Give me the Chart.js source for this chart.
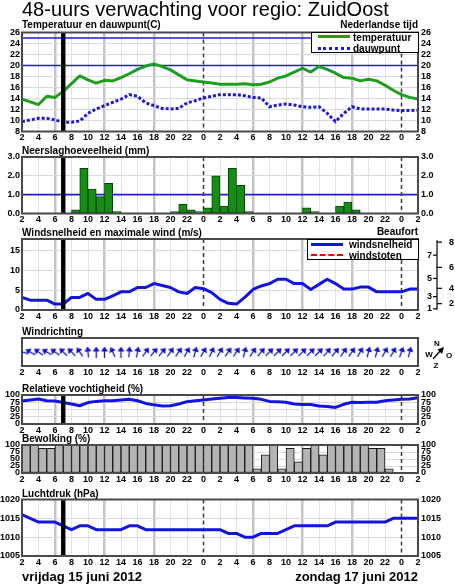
<!DOCTYPE html>
<html><head><meta charset="utf-8">
<script src="https://cdn.jsdelivr.net/npm/chart.js@4.4.1/dist/chart.umd.min.js"></script>
<style>
html,body{margin:0;padding:0;background:#fff;}
#wrap{position:relative;width:455px;height:584px;overflow:hidden;font-family:"Liberation Sans",Arial,Helvetica,sans-serif;color:#000;}
#wrap canvas{position:absolute;left:0;top:0;}
.title{position:absolute;left:22px;top:-2px;font-size:20px;line-height:22px;white-space:nowrap;}
.sub{position:absolute;white-space:nowrap;font-weight:bold;font-size:10px;line-height:12px;}
.date{position:absolute;font-weight:bold;font-size:13px;line-height:15px;white-space:nowrap;top:569px;}
.legend{position:absolute;background:#fff;border:1px solid #000;box-sizing:border-box;}
.legend .ln{position:absolute;height:0;width:32px;left:6px;}
.legend .tx{position:absolute;font-weight:bold;font-size:10px;line-height:10px;white-space:nowrap;left:41px;}
</style></head><body>
<div id="wrap">
<canvas id="cTemp" width="455" height="584"></canvas>
<canvas id="cRain" width="455" height="584"></canvas>
<canvas id="cWind" width="455" height="584"></canvas>
<canvas id="cDir" width="455" height="584"></canvas>
<canvas id="cHum" width="455" height="584"></canvas>
<canvas id="cCloud" width="455" height="584"></canvas>
<canvas id="cPres" width="455" height="584"></canvas>

<div class="title">48-uurs verwachting voor regio: ZuidOost</div>
<div class="sub" style="left:22px;top:19px">Temperatuur en dauwpunt(C)</div>
<div class="sub" style="right:37px;top:19px">Nederlandse tijd</div>
<div class="sub" style="left:22px;top:145px">Neerslaghoeveelheid (mm)</div>
<div class="sub" style="left:22px;top:227px">Windsnelheid en maximale wind (m/s)</div>
<div class="sub" style="right:37px;top:226px">Beaufort</div>
<div class="sub" style="left:22px;top:326px">Windrichting</div>
<div class="sub" style="left:22px;top:383px">Relatieve vochtigheid (%)</div>
<div class="sub" style="left:22px;top:433px">Bewolking (%)</div>
<div class="sub" style="left:22px;top:488px">Luchtdruk (hPa)</div>
<div class="date" style="left:22px">vrijdag 15 juni 2012</div>
<div class="date" style="right:37px">zondag 17 juni 2012</div>

<div class="legend" style="left:311px;top:32px;width:108px;height:21px">
  <div class="ln" style="top:2px;border-top:3px solid #1e9e1e"></div>
  <div class="tx" style="top:0px">temperatuur</div>
  <div class="ln" style="top:14px;border-top:3px dotted #1a1ad0"></div>
  <div class="tx" style="top:11px">dauwpunt</div>
</div>
<div class="legend" style="left:307px;top:239px;width:112px;height:21px">
  <div class="ln" style="top:3px;left:3px;border-top:3px solid #1414e0"></div>
  <div class="tx" style="top:0px">windsnelheid</div>
  <div class="ln" style="top:14px;left:3px;border-top:2px dashed #ff0000"></div>
  <div class="tx" style="top:11px">windstoten</div>
</div>
<svg style="position:absolute;left:424px;top:339px" width="31" height="30" viewBox="0 0 31 30">
  <g font-family="Liberation Sans, Arial, sans-serif" font-weight="bold" font-size="8" fill="#000" text-anchor="middle">
    <text x="13" y="7">N</text>
    <text x="5" y="18">W</text>
    <text x="25" y="19">O</text>
    <text x="12" y="29">Z</text>
  </g>
  <line x1="9" y1="20" x2="17" y2="11" stroke="#000" stroke-width="1.3"/>
  <polygon points="20,8 13.5,10.5 18,15" fill="#000"/>
</svg>
</div>

<script>
// ---------------- data ----------------
const startHour = 2;          // first hour shown (vrijdag 15 juni 2012, 02:00)
const nowHour = 7;            // current time marker
const xTickLabels = ['2','4','6','8','10','12','14','16','18','20','22','0','2','4','6','8','10','12','14','16','18','20','22','0','2'];

const temperatuur = [13.9,13.4,12.9,14.4,14.2,15.3,16.7,18.1,17.4,16.8,17.3,17.2,17.8,18.5,19.3,19.9,20.3,19.8,19.2,18.3,17.4,17.2,
                     17.0,16.8,16.6,16.6,16.6,16.7,16.5,16.6,17.0,17.7,18.1,18.8,19.5,18.8,19.8,19.3,18.6,17.8,17.7,17.2,17.5,17.2,16.4,15.5,
                     14.7,14.2,13.9];
const dauwpunt    = [9.8,10.1,10.4,10.4,10.1,9.7,9.7,9.9,11.3,12.1,12.7,13.3,13.9,14.7,14.4,13.2,12.7,12.2,12.1,12.2,13.2,13.6,
                     14.1,14.4,14.7,14.7,14.7,14.5,14.2,14.1,12.5,12.8,13.0,12.8,12.5,12.4,12.5,11.3,9.8,11.3,12.5,12.1,12.1,12.1,12.1,11.9,
                     11.8,11.8,11.9];
const tempTicks = [8,10,12,14,16,18,20,22,24,26];
const tempRefLines = [20,25];

const neerslag = [0,0,0,0,0,0,0.2,2.4,1.3,0.9,1.6,0.1,0,0,0,0,0,0,0.1,0.5,0.2,0.1,0.3,2.0,
                  0.4,2.4,1.5,0.1,0,0,0,0,0,0,0.3,0.1,0,0,0.4,0.6,0.2,0,0,0,0,0,0,0];
const neerslagTicks = [0,1,2,3];
const neerslagRefLines = [1];

const windsnelheid = [3.2,2.5,2.5,2.5,1.5,1.5,3.2,3.2,4.2,2.7,2.7,3.6,4.6,4.6,5.7,5.7,6.7,6.2,5.7,4.6,4.2,5.7,
                      5.4,4.4,2.7,1.7,1.5,3.2,5.2,6.1,6.7,7.8,7.8,6.7,6.7,5.2,6.5,7.8,6.7,5.3,5.3,5.8,5.8,4.6,4.6,4.6,
                      4.6,5.3,5.3];
const windTicks = [0,5,10,15];
const beaufortLimits = [0.3,1.6,3.4,5.5,8.0,10.8,13.9,17.2];
const beaufortLabels = ['1','2','3','4','5','6','7','8'];

// wind direction (degrees, direction the wind comes from), one per hour
const windrichting = [105,120,125,120,125,135,135,145,175,180,180,155,180,185,190,215,220,220,215,215,210,195,210,205,
                      210,215,215,195,215,220,225,225,225,225,225,225,225,220,220,215,215,210,195,195,210,210,200,195];

const vochtigheid = [79,83,86,80,79,74,69,63,74,78,80,80,83,85,80,71,66,62,63,69,77,80,
                     83,86,89,91,91,90,89,85,78,77,75,69,67,67,62,60,57,68,75,74,75,75,80,83,
                     85,86,91];
const pctTicks = [0,25,50,75,100];

const bewolking = [100,100,88,88,100,100,100,100,100,100,100,100,100,100,100,100,100,100,100,100,100,100,100,100,
                   100,100,100,100,15,65,100,15,88,40,88,100,65,100,100,100,100,100,88,88,15,0,0,0];

const luchtdruk = [1016,1015,1014,1014,1014,1013,1012,1013,1013,1012,1012,1012,1012,1013,1013,1012,1012,1012,1012,1012,1012,1012,
                   1012,1012,1012,1011,1011,1010,1010,1011,1011,1011,1012,1013,1013,1013,1013,1013,1014,1014,1014,1014,1014,1014,1014,1015,
                   1015,1015,1015];
const drukTicks = [1005,1010,1015,1020];

// ---------------- helpers ----------------
Chart.defaults.font.family = "'Liberation Sans', Arial, Helvetica, sans-serif";
Chart.defaults.font.size = 9;
Chart.defaults.font.weight = 'bold';
Chart.defaults.color = '#000';

const H = 584, XH = 12, LW = 22, RW = 37;
const hourOf = v => (v + startHour) % 24;
const midnights = xTickLabels.map((l, i) => l === '0' ? i * 2 : null).filter(v => v !== null);
const nowOffset = nowHour - startHour;
const xy = (arr, dx) => arr.map((v, i) => ({x: i + (dx || 0), y: v}));
const xyBars = arr => arr.map((v, i) => ({x: i + 0.5, y: v > 0 ? v : null}));

function xScale(showGrid) {
  return {
    type: 'linear', min: 0, max: 48, offset: false,
    afterBuildTicks: s => { s.ticks = xTickLabels.map((_, i) => ({value: i * 2})); },
    afterFit: s => { s.height = XH; },
    ticks: {autoSkip: false, maxRotation: 0, minRotation: 0, padding: 1, callback: (v, i) => xTickLabels[i]},
    grid: showGrid ? {
      drawTicks: false, offset: false,
      color: c => { if (!c.tick) return '#e2e2e2'; const h = hourOf(c.tick.value); if (h === 0) return 'rgba(0,0,0,0)'; return h % 6 === 0 ? '#c4c4c4' : '#e2e2e2'; },
      lineWidth: c => (c.tick && hourOf(c.tick.value) % 6 === 0) ? 2.5 : 1
    } : {display: false, drawTicks: false},
    border: {display: false}
  };
}
function yScale(pos, min, max, ticks, fmt, grid) {
  return {
    position: pos, min: min, max: max,
    afterBuildTicks: s => { s.ticks = ticks.map(v => ({value: v})); },
    afterFit: s => { s.width = pos === 'left' ? LW : RW; },
    ticks: {autoSkip: false, padding: pos === 'left' ? 2 : 3, callback: v => fmt(v)},
    grid: grid ? {drawTicks: false, color: '#dadada', lineWidth: 1} : {display: false, drawTicks: false},
    border: {display: false}
  };
}
function decor(o) {
  return {
    id: 'decor',
    beforeDatasetsDraw(chart) {
      const {ctx, chartArea: a, scales} = chart;
      const x = scales.x, y = scales.y;
      ctx.save();
      (o.refLines || []).forEach(v => {
        const py = y.getPixelForValue(v);
        ctx.strokeStyle = '#2020c8'; ctx.lineWidth = 1.6;
        ctx.beginPath(); ctx.moveTo(a.left, py); ctx.lineTo(a.right, py); ctx.stroke();
      });
      if (o.midnight) {
        ctx.setLineDash([4, 3]); ctx.strokeStyle = '#3a3a3a'; ctx.lineWidth = 1.5;
        midnights.forEach(m => {
          const px = x.getPixelForValue(m);
          ctx.beginPath(); ctx.moveTo(px, a.top); ctx.lineTo(px, a.bottom); ctx.stroke();
        });
      }
      ctx.restore();
    },
    afterDatasetsDraw(chart) {
      const {ctx, chartArea: a, scales} = chart;
      ctx.save();
      if (o.now) {
        const px = scales.x.getPixelForValue(nowOffset);
        ctx.fillStyle = '#000';
        ctx.fillRect(px - 2.2, a.top, 4.4, a.bottom - a.top);
      }
      ctx.strokeStyle = '#4a4a4a'; ctx.lineWidth = 2;
      ctx.strokeRect(a.left, a.top, a.right - a.left, a.bottom - a.top);
      ctx.restore();
    }
  };
}
function panel(id, g, datasets, scales, plugins) {
  return new Chart(document.getElementById(id), {
    type: 'line',
    data: {datasets: datasets},
    options: {
      responsive: false, animation: false, events: [],
      layout: {padding: {top: g.top, bottom: H - g.bottom - XH, left: g.padLeft || 0, right: g.padRight || 0}},
      plugins: {legend: {display: false}, tooltip: {enabled: false}, title: {display: false}},
      scales: scales
    },
    plugins: plugins
  });
}
const lineDs = (data, color, extra) => Object.assign({
  type: 'line', data: data, borderColor: color, borderWidth: 3, pointRadius: 0,
  tension: 0, fill: false, borderJoinStyle: 'round'
}, extra || {});
const f0 = v => String(v), f1 = v => v.toFixed(1);

// ---------------- temperature ----------------
panel('cTemp', {top: 32.5, bottom: 131.5}, [
  lineDs(xy(dauwpunt), '#1a1ad0', {borderDash: [3, 2], borderJoinStyle: 'miter'}),
  lineDs(xy(temperatuur), '#1e9e1e')
], {
  x: xScale(true),
  y: yScale('left', 8, 26, tempTicks, f0, true),
  y2: yScale('right', 8, 26, tempTicks, f0, false)
}, [decor({refLines: tempRefLines, midnight: true, now: true})]);

// ---------------- precipitation ----------------
panel('cRain', {top: 157, bottom: 213.5}, [{
  type: 'bar', data: xyBars(neerslag), backgroundColor: '#138f13', borderColor: '#0b3d0b', borderWidth: 1,
  barPercentage: 1, categoryPercentage: 1, borderSkipped: false
}], {
  x: xScale(true),
  y: yScale('left', 0, 3, neerslagTicks, f1, true),
  y2: yScale('right', 0, 3, neerslagTicks, f1, false)
}, [decor({refLines: neerslagRefLines, midnight: true, now: true})]);

// ---------------- wind speed ----------------
const beaufortPlugin = {
  id: 'beaufort',
  afterDraw(chart) {
    const {ctx, scales: {y}} = chart;
    const ax = 437;
    const ln = (x1, y1, x2, y2) => { ctx.beginPath(); ctx.moveTo(x1, y1); ctx.lineTo(x2, y2); ctx.stroke(); };
    ctx.save();
    ctx.strokeStyle = '#000'; ctx.lineWidth = 1.2;
    ln(ax, y.getPixelForValue(beaufortLimits[beaufortLimits.length - 1]) - 2, ax, y.getPixelForValue(beaufortLimits[0]) + 1);
    ctx.font = "bold 9px 'Liberation Sans', Arial, sans-serif";
    ctx.fillStyle = '#000'; ctx.textBaseline = 'middle';
    beaufortLimits.forEach((v, i) => {
      const py = y.getPixelForValue(v);
      if (i % 2 === 0) { ln(ax - 4, py, ax, py); ctx.textAlign = 'right'; ctx.fillText(beaufortLabels[i], ax - 5, py); }
      else { ln(ax, py, ax + 5, py); ctx.textAlign = 'left'; ctx.fillText(beaufortLabels[i], ax + 12, py); }
    });
    ctx.restore();
  }
};
panel('cWind', {top: 239, bottom: 310, padRight: RW}, [
  lineDs(xy(windsnelheid), '#1414e0')
], {
  x: xScale(true),
  y: yScale('left', 0, 18, windTicks, f0, true)
}, [decor({midnight: true, now: true}), beaufortPlugin]);

// ---------------- wind direction ----------------
function makeArrow(color) {
  const c = document.createElement('canvas'); c.width = 9; c.height = 11;
  const g = c.getContext('2d');
  g.strokeStyle = color; g.fillStyle = color; g.lineWidth = 1.3;
  g.beginPath(); g.moveTo(4.5, 11); g.lineTo(4.5, 3); g.stroke();
  g.beginPath(); g.moveTo(4.5, 0); g.lineTo(1, 5); g.lineTo(8, 5); g.closePath(); g.fill();
  return c;
}
const arrowImg = makeArrow('#1414c8');
panel('cDir', {top: 338, bottom: 366, padLeft: LW, padRight: RW}, [{
  type: 'line', data: windrichting.map((d, i) => ({x: i, y: 0})), showLine: false,
  pointStyle: arrowImg, pointRadius: 5, pointRotation: windrichting.map(d => (d + 180) % 360)
}], {
  x: xScale(false),
  y: {display: false, min: -1, max: 1}
}, [decor({})]);

// ---------------- humidity ----------------
panel('cHum', {top: 395, bottom: 424}, [
  lineDs(xy(vochtigheid), '#1414e0')
], {
  x: xScale(true),
  y: yScale('left', 0, 100, pctTicks, f0, true),
  y2: yScale('right', 0, 100, pctTicks, f0, false)
}, [decor({midnight: true, now: true})]);

// ---------------- cloud cover ----------------
panel('cCloud', {top: 445, bottom: 473}, [{
  type: 'bar', data: xyBars(bewolking), backgroundColor: '#b4b4b4', borderColor: '#1a1a1a', borderWidth: 1,
  barPercentage: 1, categoryPercentage: 1, borderSkipped: false
}], {
  x: xScale(true),
  y: yScale('left', 0, 100, pctTicks, f0, true),
  y2: yScale('right', 0, 100, pctTicks, f0, false)
}, [decor({midnight: true})]);

// ---------------- pressure ----------------
panel('cPres', {top: 499.5, bottom: 556}, [
  lineDs(xy(luchtdruk), '#1414e0')
], {
  x: xScale(true),
  y: yScale('left', 1005, 1020, drukTicks, f0, true),
  y2: yScale('right', 1005, 1020, drukTicks, f0, false)
}, [decor({midnight: true, now: true})]);
</script>
</body></html>
